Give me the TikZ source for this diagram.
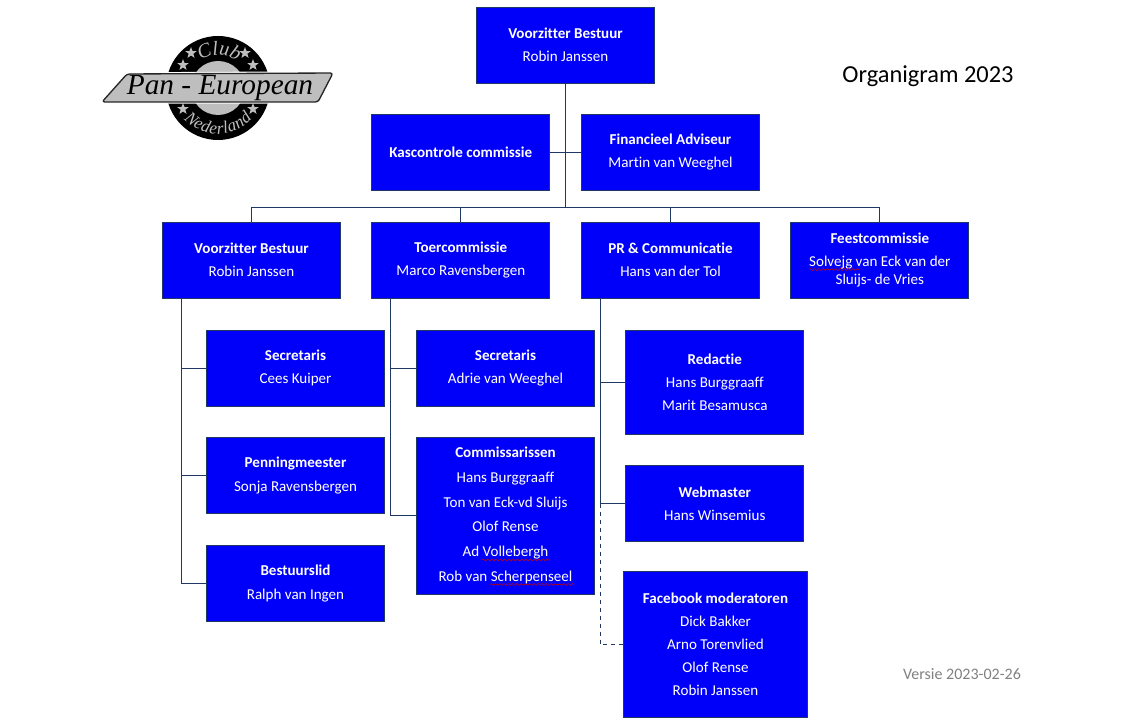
\documentclass[tikz,border=0pt]{standalone}
\usepackage{fontspec}
\setmainfont{Carlito}[Ligatures=NoCommon]
\newfontfamily\logofont{Liberation Serif}
\usepackage{tikz}
\usetikzlibrary{shapes.geometric, decorations.text, decorations.pathmorphing}
\definecolor{lijnblauw}{RGB}{31,56,100}
\definecolor{vakblauw}{RGB}{0,0,250}
\definecolor{logogrijs}{RGB}{190,190,190}
\tikzset{
    orgbox/.style={draw=lijnblauw, fill=vakblauw, text=white, align=center, inner sep=0pt,
        minimum width=133.4pt, minimum height=57pt, line width=0.6pt,
        font=\fontsize{11.3}{17.3}\selectfont},
    lijn/.style={draw=lijnblauw, line width=0.7pt},
    spelfout/.style={draw=red!80!black, line width=0.4pt, decorate,
        decoration={snake, amplitude=0.7pt, segment length=3.2pt}},
    logoster/.style={star, star points=5, star point ratio=2.4, fill=logogrijs, inner sep=0pt, minimum size=9pt}
}
\begin{document}
\begin{tikzpicture}[x=0.75pt, y=0.75pt]
    \useasboundingbox (0,0) rectangle (1123,-727);
    % logo
    \fill[black] (218,-88) circle (52);
    \fill[logogrijs] (218,-88) circle (27);
    \foreach \sx/\sy [count=\i] in {191/53, 183/65, 245/53, 253/65, 183/109, 253/109}
        \node[logoster] (ster\i) at (\sx,-\sy) {};
    \path[decorate, decoration={text along path, text align={fit to path},
        text={|\logofont\itshape\fontsize{15}{15}\selectfont\color{logogrijs}|Club}}]
        (200.5,-60) arc[start angle=122, end angle=58, radius=33];
    \path[decorate, decoration={text along path, text align={fit to path},
        text={|\logofont\itshape\fontsize{13}{13}\selectfont\color{logogrijs}|Nederland}}]
        (183.8,-118.8) arc[start angle=222, end angle=318, radius=46];
    \filldraw[draw=white, line width=2.6pt, fill=white, line join=round, rounded corners=2pt]
        (102,-102) -- (127,-74) -- (333,-73) -- (318,-102) -- cycle;
    \filldraw[draw=black!85, line width=1pt, fill=logogrijs, line join=round, rounded corners=2pt]
        (102,-102) -- (127,-74) -- (333,-73) -- (318,-102) -- cycle;
    \node[font=\logofont\itshape\fontsize{22}{22}\selectfont, text=black, inner sep=0pt] (logotekst) at (220,-88) {Pan - European};
    % titels
    \node[font=\fontsize{18.3}{20}\selectfont, text=black] (titel) at (928,-76) {Organigram 2023};
    \node[font=\fontsize{12}{14}\selectfont, text=black!50] (versie) at (962,-674) {Versie 2023-02-26};
    % vakken
    \node[orgbox] (voorzitter) at (565.5,-45) {\textbf{Voorzitter Bestuur}\\Robin Janssen};
    \node[orgbox] (kascontrole) at (460.8,-152) {\textbf{Kascontrole commissie}};
    \node[orgbox] (financieel) at (670.5,-152) {\textbf{Financieel Adviseur}\\Martin van Weeghel};
    \node[orgbox] (bestuur) at (251.5,-260) {\textbf{Voorzitter Bestuur}\\Robin Janssen};
    \node[orgbox] (toer) at (460.8,-260) {\textbf{Toercommissie}\\Marco Ravensbergen};
    \node[orgbox] (pr) at (670.5,-260) {\textbf{PR \& Communicatie}\\Hans van der Tol};
    \node[orgbox] (feest) at (879.8,-260) {\textbf{Feestcommissie}\\Solvejg van Eck van der\\[-4.4pt]Sluijs- de Vries};
    \node[orgbox] (secretaris) at (295.5,-368) {\textbf{Secretaris}\\Cees Kuiper};
    \node[orgbox] (penning) at (295.5,-475.5) {\textbf{Penningmeester}\\Sonja Ravensbergen};
    \node[orgbox] (bestuurslid) at (295.5,-583.5) {\textbf{Bestuurslid}\\Ralph van Ingen};
    \node[orgbox] (toersecr) at (505.5,-368) {\textbf{Secretaris}\\Adrie van Weeghel};
    \node[orgbox, minimum height=117.8pt] (commissaris) at (505.5,-515.5) {\textbf{Commissarissen}\\[1.2pt]Hans Burggraaff\\[1.2pt]Ton van Eck-vd Sluijs\\[1.2pt]Olof Rense\\[1.2pt]Ad Vollebergh\\[1.2pt]Rob van Scherpenseel};
    \node[orgbox, minimum height=78pt] (redactie) at (714.8,-382) {\textbf{Redactie}\\Hans Burggraaff\\Marit Besamusca};
    \node[orgbox] (webmaster) at (714.8,-503.5) {\textbf{Webmaster}\\Hans Winsemius};
    \node[orgbox, minimum width=138.4pt, minimum height=110pt] (facebook) at (715.5,-644.5) {\textbf{Facebook moderatoren}\\Dick Bakker\\Arno Torenvlied\\Olof Rense\\Robin Janssen};
    % spelling
    \draw[spelfout] (809,-269.5) -- (859,-269.5);
    \draw[spelfout] (482,-560) -- (550,-560);
    \draw[spelfout] (490,-584.5) -- (574,-584.5);
    % lijnen
    \coordinate (bus) at (565.5,-207);
    \coordinate (railA) at (181,-298);
    \coordinate (railB) at (390,-298);
    \coordinate (railC) at (600,-298);
    \draw[lijn] (voorzitter.south) -- (bus);
    \draw[lijn] (kascontrole.east) -- (financieel.west);
    \draw[lijn] (bestuur.north) |- (bus);
    \draw[lijn] (toer.north) |- (bus);
    \draw[lijn] (pr.north) |- (bus);
    \draw[lijn] (feest.north) |- (bus);
    \draw[lijn] (railA) |- (secretaris.west);
    \draw[lijn] (railA) |- (penning.west);
    \draw[lijn] (railA) |- (bestuurslid.west);
    \draw[lijn] (railB) |- (toersecr.west);
    \draw[lijn] (railB) |- (commissaris.west);
    \draw[lijn] (railC) |- (redactie.west);
    \draw[lijn] (railC) |- (webmaster.west);
    \draw[lijn, dashed] (railC |- webmaster.west) |- (facebook.west);
\end{tikzpicture}
\end{document}
